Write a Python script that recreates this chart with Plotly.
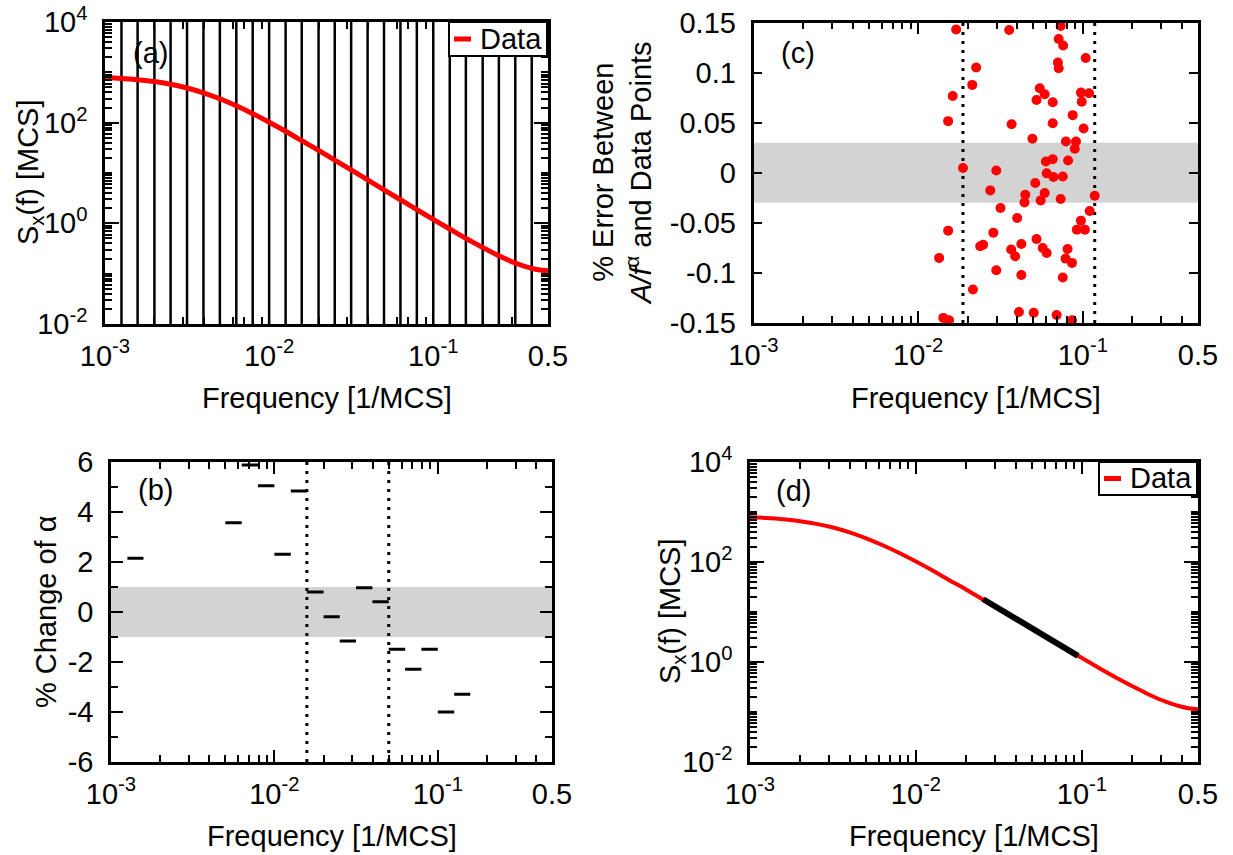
import math
import plotly.graph_objects as go

W, H = 1233, 855

# ---------------- data ----------------
# power spectrum S_x(f) shown in panels (a) and (d)
freq = [0.001, 0.00126, 0.00158, 0.00200, 0.00251, 0.00316, 0.00398, 0.00501, 0.00631, 0.00794,
        0.0100, 0.0126, 0.0158, 0.0200, 0.0251, 0.0316, 0.0398, 0.0501, 0.0631, 0.0794,
        0.100, 0.126, 0.158, 0.200, 0.251, 0.316, 0.398, 0.447, 0.500]
spectrum = [788, 758, 714, 655, 579, 489, 392, 298, 216, 151,
            102, 67.4, 43.8, 28.2, 18.0, 11.5, 7.29, 4.63, 2.94, 1.87,
            1.20, 0.771, 0.502, 0.332, 0.227, 0.163, 0.127, 0.118, 0.114]

# window edges drawn as vertical lines in panel (a)
window_edges = [0.00126, 0.00158, 0.00200, 0.00251, 0.00316, 0.00398, 0.00501, 0.00631, 0.00794,
                0.0100, 0.0126, 0.0158, 0.0200, 0.0251, 0.0316, 0.0398, 0.0501, 0.0631, 0.0794,
                0.100, 0.126, 0.158, 0.200, 0.251, 0.316, 0.398]

# panel (b): % change of alpha per window
alpha_lo = [0.00126, 0.00501, 0.00631, 0.00794, 0.0100, 0.0126, 0.0158, 0.0200,
            0.0251, 0.0316, 0.0398, 0.0501, 0.0631, 0.0794, 0.100, 0.126]
alpha_hi = [0.00158, 0.00631, 0.00794, 0.0100, 0.0126, 0.0158, 0.0200, 0.0251,
            0.0316, 0.0398, 0.0501, 0.0631, 0.0794, 0.100, 0.126, 0.158]
alpha_change = [2.15, 3.57, 5.88, 5.05, 2.31, 4.84, 0.80, -0.19,
                -1.16, 0.97, 0.41, -1.49, -2.29, -1.49, -4.00, -3.29]
b_window = [0.0158, 0.0501]
b_band = 1.0

# panel (c): % error between A/f^alpha and data points
err_freq = [0.0170, 0.0357, 0.0733, 0.0713, 0.0759, 0.0225, 0.0213, 0.0705, 0.0713, 0.104,
            0.0162, 0.0547, 0.0523, 0.0586, 0.0656, 0.0973, 0.109, 0.0984, 0.0152, 0.0369,
            0.0656, 0.0867, 0.101, 0.0494, 0.0789, 0.0908, 0.0893, 0.0187, 0.0298, 0.0596,
            0.0656, 0.0813, 0.0603, 0.0663, 0.0755, 0.0514, 0.0274, 0.0447, 0.0586, 0.0554,
            0.0442, 0.0733, 0.118, 0.0316, 0.110, 0.0399, 0.0973, 0.0919, 0.1028, 0.0152,
            0.0286, 0.0523, 0.0238, 0.0248, 0.0423, 0.0367, 0.0388, 0.0570, 0.0603, 0.0807,
            0.0785, 0.0859, 0.0134, 0.0298, 0.0423, 0.0755, 0.0215, 0.0409, 0.0503, 0.0693,
            0.0142, 0.0154, 0.0859]
err_value = [0.143, 0.1425, 0.1465, 0.1335, 0.127, 0.105, 0.0877, 0.110, 0.1043, 0.1146,
             0.0767, 0.0844, 0.0727, 0.0784, 0.0704, 0.080, 0.0794, 0.0708, 0.0515, 0.0485,
             0.0495, 0.0575, 0.0442, 0.0339, 0.0312, 0.0312, 0.0239, 0.0047, 0.0023, 0.0113,
             0.0136, 0.0123, -0.0006, -0.0043, -0.0037, -0.0103, -0.0176, -0.0219, -0.0203, -0.0276,
             -0.0296, -0.0262, -0.0229, -0.0352, -0.0382, -0.0452, -0.0478, -0.0568, -0.0568, -0.0578,
             -0.0598, -0.0661, -0.0734, -0.0718, -0.0711, -0.0767, -0.0834, -0.0751, -0.0801, -0.0761,
             -0.0857, -0.0900, -0.0850, -0.0973, -0.102, -0.1046, -0.1166, -0.139, -0.1397, -0.142,
             -0.1449, -0.1472, -0.1472]
c_window = [0.0187, 0.118]
c_band = 0.03

# panel (d): power-law fit segment
fit_freq = [0.0254, 0.0946]
fit_spectrum = [18.0, 1.33]

# tick labels
x_tickvals = [0.001, 0.01, 0.1, 0.5]
x_ticktext = ['10<sup>-3</sup>', '10<sup>-2</sup>', '10<sup>-1</sup>', '0.5']
s_tickvals = [0.01, 1, 100, 10000]
s_ticktext = ['10<sup>-2</sup>', '10<sup>0</sup>', '10<sup>2</sup>', '10<sup>4</sup>']
s_oddvals = [0.1, 10, 1000]
c_tickvals = [-0.15, -0.1, -0.05, 0, 0.05, 0.1, 0.15]
c_ticktext = ['-0.15', '-0.1', '-0.05', '0', '0.05', '0.1', '0.15']
b_tickvals = [-6, -4, -2, 0, 2, 4, 6]
b_ticktext = ['-6', '-4', '-2', '0', '2', '4', '6']
legend_label = 'Data'

# ---------------- helpers ----------------
FONT = 'Liberation Sans'
TICK = 29
TITLE = 29
S_RANGE = [0.01, 10000]
C_RANGE = [-0.15, 0.15]
B_RANGE = [-6, 6]


def xd(l, r):
    return [l / W, r / W]


def yd(t, b):
    return [1 - b / H, 1 - t / H]


def vlines(xs, lo, hi):
    X, Y = [], []
    for x in xs:
        X += [x, x, None]
        Y += [lo, hi, None]
    return X, Y


def hsegs(lo, hi, vals):
    X, Y = [], []
    for a, b, v in zip(lo, hi, vals):
        X += [a, b, None]
        Y += [v, v, None]
    return X, Y


minor_x = [m * 10 ** e for e in (-3, -2, -1) for m in range(2, 10) if m * 10 ** e < 0.5]
minor_s = sorted([m * 10 ** e for e in range(-2, 4) for m in range(2, 10)] + s_oddvals)

axis_common = dict(showline=True, linecolor='black', linewidth=2.5, mirror='ticks',
                   ticks='inside', tickcolor='black', tickwidth=2, showgrid=False,
                   zeroline=False, automargin=False,
                   tickfont=dict(family=FONT, size=TICK, color='black'))


def logx(dom, anchor):
    return dict(type='log', range=[-3, math.log10(0.5)], domain=dom, anchor=anchor,
                tickmode='array', tickvals=x_tickvals, ticktext=x_ticktext, ticklen=12,
                ticklabelstandoff=4,
                minor=dict(tickmode='array', tickvals=minor_x, ticks='inside', ticklen=7,
                           tickwidth=1.5, tickcolor='black', showgrid=False),
                **axis_common)


def logy(dom, anchor):
    return dict(type='log', range=[-2, 4], domain=dom, anchor=anchor,
                tickmode='array', tickvals=s_tickvals, ticktext=s_ticktext, ticklen=14,
                ticklabelstandoff=9,
                minor=dict(tickmode='array', tickvals=minor_s, ticks='inside', ticklen=7,
                           tickwidth=1.5, tickcolor='black', showgrid=False),
                **axis_common)


fig = go.Figure()

# ---- panel (a)
vx, vy = vlines(window_edges, S_RANGE[0], S_RANGE[1])
fig.add_trace(go.Scatter(x=vx, y=vy, mode='lines', line=dict(color='black', width=2.5),
                         xaxis='x', yaxis='y', showlegend=False, hoverinfo='skip'))
fig.add_trace(go.Scatter(x=freq, y=spectrum, mode='lines', name=legend_label,
                         line=dict(color='#ff0000', width=5, shape='spline'),
                         xaxis='x', yaxis='y', showlegend=False))

# ---- panel (b)
bx, by = vlines(b_window, B_RANGE[0], B_RANGE[1])
fig.add_trace(go.Scatter(x=bx, y=by, mode='lines', line=dict(color='black', width=3, dash='3px,6px'),
                         xaxis='x2', yaxis='y2', showlegend=False, hoverinfo='skip'))
hx, hy = hsegs(alpha_lo, alpha_hi, alpha_change)
fig.add_trace(go.Scatter(x=hx, y=hy, mode='lines', line=dict(color='black', width=3),
                         xaxis='x2', yaxis='y2', showlegend=False, cliponaxis=False))

# ---- panel (c)
cx, cy = vlines(c_window, C_RANGE[0], C_RANGE[1])
fig.add_trace(go.Scatter(x=cx, y=cy, mode='lines', line=dict(color='black', width=3, dash='3px,6px'),
                         xaxis='x3', yaxis='y3', showlegend=False, hoverinfo='skip'))
fig.add_trace(go.Scatter(x=err_freq, y=err_value, mode='markers',
                         marker=dict(color='#ff0000', size=10),
                         xaxis='x3', yaxis='y3', showlegend=False, cliponaxis=False))

# ---- panel (d)
fig.add_trace(go.Scatter(x=freq, y=spectrum, mode='lines', name=legend_label,
                         line=dict(color='#ff0000', width=4, shape='spline'),
                         xaxis='x4', yaxis='y4', showlegend=False))
fig.add_trace(go.Scatter(x=fit_freq, y=fit_spectrum, mode='lines',
                         line=dict(color='black', width=6),
                         xaxis='x4', yaxis='y4', showlegend=False))

# grey bands
fig.add_shape(type='rect', xref='x2 domain', yref='y2', x0=0, x1=1, y0=-b_band, y1=b_band,
              fillcolor='#d3d3d3', line_width=0, layer='below')
fig.add_shape(type='rect', xref='x3 domain', yref='y3', x0=0, x1=1, y0=-c_band, y1=c_band,
              fillcolor='#d3d3d3', line_width=0, layer='below')

# axes
dom_a = (xd(105, 548), yd(22, 324))
dom_b = (xd(111, 552), yd(462, 762))
dom_c = (xd(753.5, 1198), yd(22.5, 323))
dom_d = (xd(750, 1198), yd(462, 762))

fig.update_layout(
    template='none',
    width=W, height=H, margin=dict(l=0, r=0, t=0, b=0, pad=0), autosize=False,
    paper_bgcolor='white', plot_bgcolor='white', showlegend=False,
    font=dict(family=FONT, size=TICK, color='black'),
    xaxis=logx(dom_a[0], 'y'),
    yaxis=logy(dom_a[1], 'x'),
    xaxis2=logx(dom_b[0], 'y2'),
    yaxis2=dict(range=B_RANGE, domain=dom_b[1], anchor='x2', tickmode='array',
                tickvals=b_tickvals, ticktext=b_ticktext, ticklen=12, ticklabelstandoff=9,
                minor=dict(dtick=1, ticks='inside', ticklen=7, tickwidth=1.5, tickcolor='black',
                           showgrid=False), **axis_common),
    xaxis3=logx(dom_c[0], 'y3'),
    yaxis3=dict(range=C_RANGE, domain=dom_c[1], anchor='x3', tickmode='array',
                tickvals=c_tickvals, ticktext=c_ticktext, ticklen=9, ticklabelstandoff=9,
                **axis_common),
    xaxis4=logx(dom_d[0], 'y4'),
    yaxis4=logy(dom_d[1], 'x4'),
)


# key boxes ("Data") drawn in the top-right corner of panels (a) and (d)
def key(l, r, t, b):
    fig.add_shape(type='rect', xref='paper', yref='paper', x0=l / W, x1=r / W,
                  y0=1 - b / H, y1=1 - t / H, fillcolor='white',
                  line=dict(color='black', width=2), layer='above')
    ym = 1 - (t + b) / 2 / H
    fig.add_shape(type='line', xref='paper', yref='paper', x0=(l + 5) / W, x1=(l + 22) / W,
                  y0=ym, y1=ym, line=dict(color='#ff0000', width=5), layer='above')
    fig.add_annotation(text=legend_label, x=(r - 3) / W, y=ym, xref='paper', yref='paper',
                       showarrow=False, xanchor='right', yanchor='middle',
                       font=dict(family=FONT, size=29, color='black'))


key(449, 547, 22, 56)
key(1099, 1197, 462, 495)


# panel labels and axis titles
def ann(text, x, y, size=TITLE, angle=0):
    fig.add_annotation(text=text, x=x / W, y=1 - y / H, xref='paper', yref='paper',
                       showarrow=False, textangle=angle, xanchor='center', yanchor='middle',
                       font=dict(family=FONT, size=size, color='black'))


ann('(a)', 150, 53)
ann('(c)', 798, 53)
ann('(b)', 155, 490)
ann('(d)', 794, 491)

ann('Frequency [1/MCS]', 326.5, 398)
ann('Frequency [1/MCS]', 975.5, 398)
ann('Frequency [1/MCS]', 331.5, 836)
ann('Frequency [1/MCS]', 974, 836)

ann('S<sub>x</sub>(f) [MCS]', 30, 173, angle=-90)
ann('% Change of α', 46, 612, angle=-90)
ann('% Error Between<br><i>A/f</i><sup>α</sup> and Data Points', 622, 173, angle=-90)
ann('S<sub>x</sub>(f) [MCS]', 672, 612, angle=-90)

fig.write_html('out.html')
